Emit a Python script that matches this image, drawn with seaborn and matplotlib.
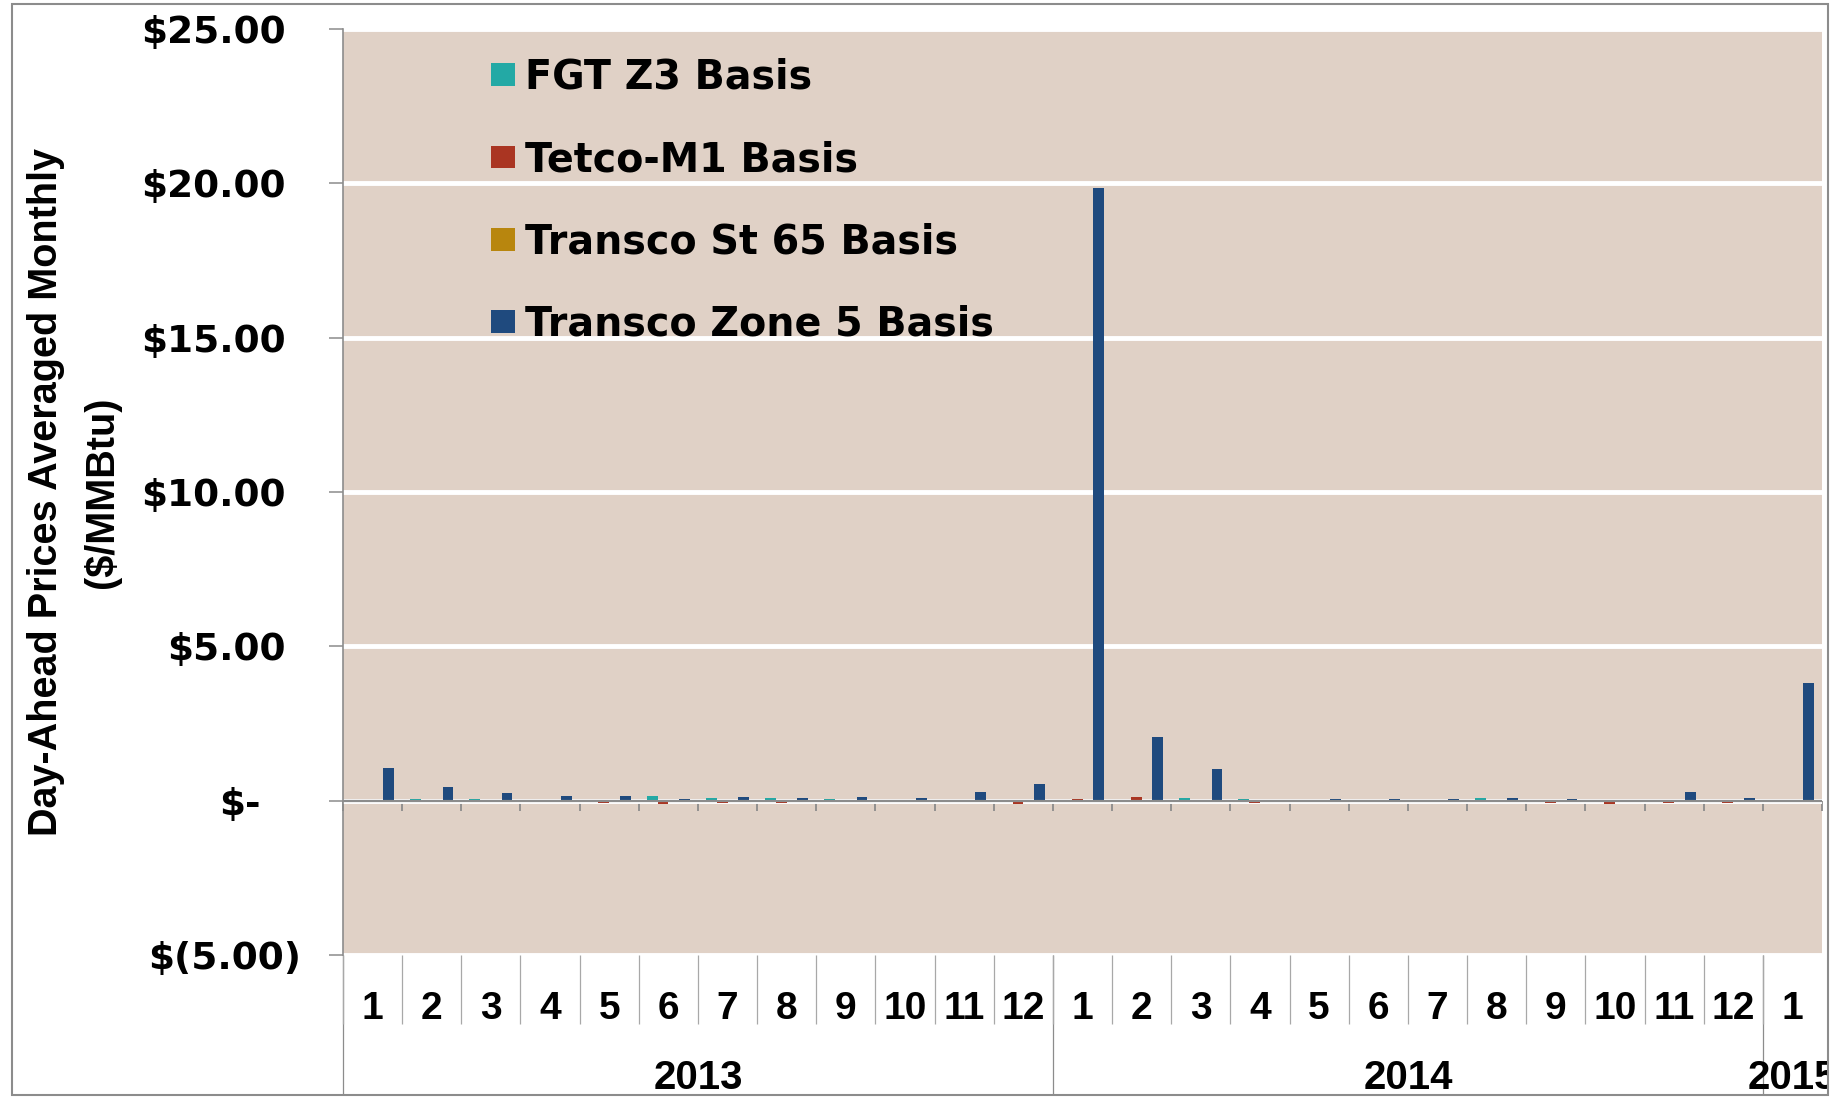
import matplotlib
matplotlib.use("Agg")
import matplotlib.pyplot as plt
import matplotlib.transforms as mtransforms
from matplotlib.patches import Rectangle
import seaborn as sns
import pandas as pd

# categories (month within year)
years = ["2013"] * 12 + ["2014"] * 12 + ["2015"]
months = list(range(1, 13)) + list(range(1, 13)) + [1]
series = ["FGT Z3 Basis", "Tetco-M1 Basis", "Transco St 65 Basis", "Transco Zone 5 Basis"]

# values ($/MMBtu)
fgt_z3 = [0, 0.05, 0.06, 0, 0.03, 0.14, 0.10, 0.08, 0.04, 0, 0, 0,
          0, 0, 0.10, 0.04, 0, 0.02, 0, 0.08, 0, 0, 0, 0,
          0]
tetco_m1 = [0, 0.03, 0, -0.01, -0.07, -0.10, -0.08, -0.08, -0.05, -0.05, -0.05, -0.10,
            0.05, 0.11, 0, -0.07, -0.03, 0, 0, -0.03, -0.07, -0.10, -0.07, -0.07,
            0]
transco_st65 = [0, 0, 0, 0, 0, 0, 0, 0, 0, 0, 0, 0,
                0, 0, 0, 0, 0, 0, 0, 0, 0, -0.02, 0, 0,
                0]
transco_z5 = [1.07, 0.45, 0.24, 0.16, 0.14, 0.07, 0.11, 0.08, 0.12, 0.09, 0.27, 0.54,
              19.85, 2.07, 1.03, 0.03, 0.04, 0.07, 0.07, 0.10, 0.05, 0, 0.28, 0.10,
              3.80]

colors = ["#23A9A5", "#AA3522", "#B8860E", "#1F4A7E"]
tan = "#E0D1C6"
grey = "#8C8C8C"

periods = [f"{y}-{m:02d}" for y, m in zip(years, months)]
df = pd.DataFrame({
    "period": periods * 4,
    "series": [s for s in series for _ in periods],
    "value": fgt_z3 + tetco_m1 + transco_st65 + transco_z5,
})

W, H = 1843, 1099
fig = plt.figure(figsize=(W / 100, H / 100), dpi=100)
ax = fig.add_axes([343 / W, 1 - 955 / H, (1822 - 343) / W, (955 - 29) / H])

sns.barplot(data=df, x="period", y="value", hue="series", hue_order=series,
            order=periods, palette=colors, width=0.73, saturation=1,
            errorbar=None, ax=ax, zorder=2)

ax.set_xlim(-0.5, len(periods) - 0.5)
ax.set_ylim(-5, 25)
ax.set_facecolor(tan)
ax.set_xlabel("")
ax.yaxis.grid(True, color="white", lw=3.5)
ax.xaxis.grid(False)
ax.set_axisbelow(True)
for s in ["top", "right", "bottom"]:
    ax.spines[s].set_visible(False)
ax.spines["left"].set_color(grey)
ax.spines["left"].set_linewidth(1.2)
ax.axhline(0, color=grey, lw=1.6, zorder=3)

# y axis
yticks = [-5, 0, 5, 10, 15, 20, 25]
ylabels = ["$(5.00)", "$-", "$5.00", "$10.00", "$15.00", "$20.00", "$25.00"]
ax.set_yticks(yticks)
ax.set_yticklabels(ylabels, fontsize=27, fontweight="bold", family="DejaVu Sans")
ax.tick_params(axis="y", length=10, width=1.1, color=grey, pad=31)
ax.set_ylabel("Day-Ahead Prices Averaged Monthly\n($/MMBtu)", fontsize=28.5,
              fontweight="bold", family="Liberation Sans", linespacing=1.58)
ax.yaxis.label.set_va("center")
ax.yaxis.set_label_coords(-0.182, 0.5)

# month level of the category axis
bounds = [i - 0.5 for i in range(len(periods) + 1)]
ax.set_xticks(bounds[:-1])
ax.set_xticklabels([])
ax.set_xticks(range(len(periods)), [str(m) for m in months], minor=True)
ax.tick_params(axis="x", which="major", length=50, width=0.9, color="#A8A8A8")
ax.tick_params(axis="x", which="minor", length=0, pad=26)
for lab in ax.get_xticklabels(minor=True):
    lab.set_fontsize(28)
    lab.set_fontweight("bold")
    lab.set_family("Liberation Sans")

# tick marks on the zero line
zero = ax.secondary_xaxis(5 / 30)
zero.set_xticks(bounds)
zero.xaxis.set_ticks_position("bottom")
zero.tick_params(length=7, width=1.3, color=grey, direction="out",
                 labelbottom=False, labeltop=False)
for s in zero.spines.values():
    s.set_visible(False)

# year level of the category axis
yr_names = ["2013", "2014", "2015"]
yr_starts = [years.index(y) for y in yr_names]
yr_ends = [len(years) - years[::-1].index(y) - 1 for y in yr_names]
yr_axis = ax.secondary_xaxis("bottom")
yr_axis.set_xticks([s - 0.5 for s in yr_starts])
yr_axis.set_xticklabels([])
yr_axis.set_xticks([(a + b) / 2 for a, b in zip(yr_starts, yr_ends)], yr_names, minor=True)
yr_axis.tick_params(which="major", length=100, width=0.9, color=grey)
yr_axis.tick_params(which="minor", length=0, pad=75)
for s in yr_axis.spines.values():
    s.set_visible(False)
clip = mtransforms.TransformedBbox(mtransforms.Bbox([[0, 0], [1828 / W, 1]]), fig.transFigure)
for lab in yr_axis.get_xticklabels(minor=True):
    lab.set_fontsize(29)
    lab.set_fontweight("bold")
    lab.set_family("Liberation Sans")
    lab.set_clip_box(clip)
    lab.set_clip_on(True)

# legend
handles, labels = ax.get_legend_handles_labels()
ax.legend(handles, labels, loc="upper left", bbox_to_anchor=(0.1, 0.969),
          frameon=False, borderpad=0, borderaxespad=0,
          handlelength=0.6, handleheight=0.5, handletextpad=0.25,
          labelspacing=1.07, prop={"family": "DejaVu Sans", "weight": "bold", "size": 28.5})

# accounting-style alignment of the y labels
for lab in ax.get_yticklabels():
    t = lab.get_text()
    dx = 15 if t.startswith("$(") else (-25 if t == "$-" else 0)
    if dx:
        lab.set_transform(lab.get_transform() + mtransforms.ScaledTranslation(dx / 100, 0, fig.dpi_scale_trans))

# outer frame
fig.add_artist(Rectangle((12 / W, 4 / H), (1828 - 12) / W, (1095 - 4) / H,
                         transform=fig.transFigure, fill=False, edgecolor=grey, lw=1.5))

fig.savefig("out.png", dpi=100)
